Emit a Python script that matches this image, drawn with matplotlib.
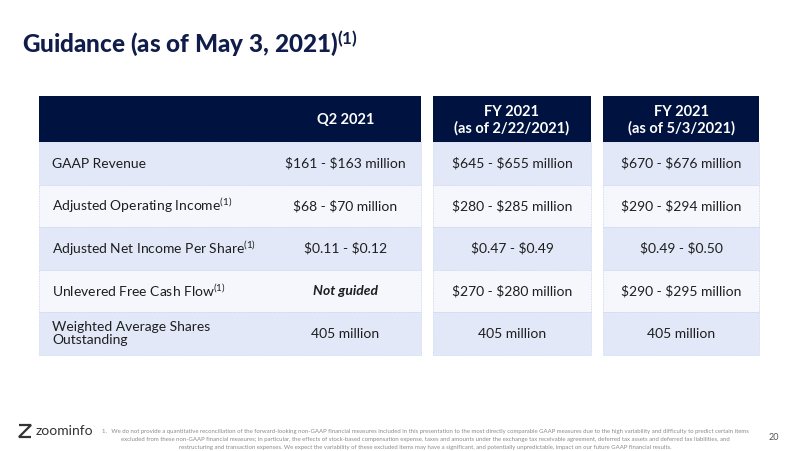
import matplotlib.pyplot as plt
from matplotlib.patches import Rectangle

plt.rcParams['font.family'] = ['Lato', 'DejaVu Sans']
plt.rcParams['mathtext.fontset'] = 'custom'
plt.rcParams['mathtext.rm'] = 'Lato'
plt.rcParams['mathtext.it'] = 'Lato:italic'
plt.rcParams['mathtext.bf'] = 'Lato:bold'

NAVY = '#00123f'
TITLE = '#101c4a'
BLUE_ROW = '#e2e8f8'
WHITE_ROW = '#f6f7fd'
EDGE = '#c8d2ee'
TEXT = '#1e1e1e'

# table content
row_labels = ['GAAP Revenue', 'Adjusted Operating Income$^{(1)}$',
              'Adjusted Net Income Per Share$^{(1)}$', 'Unlevered Free Cash Flow$^{(1)}$',
              'Weighted Average Shares\nOutstanding']
col_headers = ['Q2 2021', 'FY 2021\n(as of 2/22/2021)', 'FY 2021\n(as of 5/3/2021)']
q2_2021 = ['$161 - $163 million', '$68 - $70 million', '$0.11 - $0.12', 'Not guided', '405 million']
fy_feb = ['$645 - $655 million', '$280 - $285 million', '$0.47 - $0.49',
          '$270 - $280 million', '405 million']
fy_may = ['$670 - $676 million', '$290 - $294 million', '$0.49 - $0.50',
          '$290 - $295 million', '405 million']
columns = [q2_2021, fy_feb, fy_may]

footnote = [
    "1.   We do not provide a quantitative reconciliation of the forward-looking non-GAAP financial measures included in this presentation to the most directly comparable GAAP measures due to the high variability and difficulty to predict certain items",
    "excluded from these non-GAAP financial measures; in particular, the effects of stock-based compensation expense, taxes and amounts under the exchange tax receivable agreement, deferred tax assets and deferred tax liabilities, and",
    "restructuring and transaction expenses. We expect the variability of these excluded items may have a significant, and potentially unpredictable, impact on our future GAAP financial results.",
]

fig = plt.figure(figsize=(8, 4.51), dpi=100)
ax = fig.add_axes([0, 0, 1, 1])
ax.set_xlim(0, 800)
ax.set_ylim(451, 0)
ax.axis('off')

# title
ax.text(22, 43, 'Guidance (as of May 3, 2021)' + r'$^{\mathbf{(1)}}$', fontsize=17.5,
        fontweight='black', color=TITLE, va='center', ha='left')

# layout in pixels
blocks = [(39, 421), (433, 591), (603, 759)]   # x extents of the three table blocks
label_end = 270
head_top, head_bot = 96, 142
row_edges = [142, 185, 227, 270, 312, 355]

for b, (x0, x1) in enumerate(blocks):
    ax.add_patch(Rectangle((x0, head_top), x1 - x0, head_bot - head_top,
                           facecolor=NAVY, edgecolor='none'))
    for i in range(len(row_labels)):
        y0, y1 = row_edges[i], row_edges[i + 1]
        fc = BLUE_ROW if i % 2 == 0 else WHITE_ROW
        ax.add_patch(Rectangle((x0, y0), x1 - x0, y1 - y0, facecolor=fc,
                               edgecolor=EDGE, linewidth=0.6, linestyle=(0, (1, 1))))
    val_x0 = label_end if b == 0 else x0
    cx = (val_x0 + x1) / 2
    ax.text(cx, (head_top + head_bot) / 2 + 1, col_headers[b], color='white',
            fontsize=10.5, fontweight='bold', ha='center', va='center', linespacing=1.2)
    for i, val in enumerate(columns[b]):
        yc = (row_edges[i] + row_edges[i + 1]) / 2
        if val == 'Not guided':
            ax.text(cx, yc, val, fontsize=10, color=TEXT, ha='center', va='center',
                    fontweight='bold', fontstyle='italic')
        else:
            ax.text(cx, yc, val.replace('$', r'\$'), fontsize=10, color=TEXT,
                    ha='center', va='center')

for i, lab in enumerate(row_labels):
    yc = (row_edges[i] + row_edges[i + 1]) / 2
    ax.text(52, yc, lab, fontsize=10, color=TEXT, ha='left', va='center', linespacing=1.15)

# footnote
for k, line in enumerate(footnote):
    ax.text(425, 432 + k * 7.5, line, fontsize=4.3, color='#8a8a8a', ha='center', va='center')

# logo
ax.plot([19, 31, 19, 31], [425, 425, 437, 437], color='#333333', lw=1.6,
        solid_capstyle='butt', solid_joinstyle='miter')
ax.text(36, 431, 'zoominfo', fontsize=10, color='#333333', ha='left', va='center')

ax.text(774, 437, '20', fontsize=6.5, color='#555555', ha='center', va='center')

fig.savefig('out.png', dpi=100)
